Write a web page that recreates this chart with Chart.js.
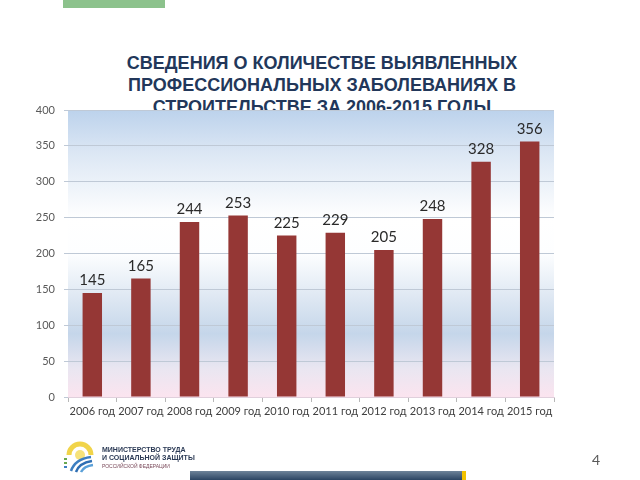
<html>
<head>
<script src="https://cdn.jsdelivr.net/npm/chart.js@4.4.1/dist/chart.umd.min.js"></script>
<style>
  body { margin: 0; width: 640px; height: 480px; background: #fff; overflow: hidden; position: relative; font-family: "Liberation Sans", Arial, sans-serif; }
  #greenbar { position: absolute; left: 63px; top: 0; width: 102px; height: 8px; background: #8cc28c; }
  #title { position: absolute; left: 0; width: 644px; top: 52px; text-align: center; color: #22375a;
           font-family: "Liberation Sans Narrow", "Liberation Sans", Arial, sans-serif; font-weight: bold;
           font-size: 18px; line-height: 22px; }
  #wrap { position: absolute; left: 0; top: 0; width: 640px; height: 480px; }
  #footer-text { position: absolute; left: 102px; top: 446px; color: #2b3a55; font-family: "Liberation Sans Narrow", "Liberation Sans", sans-serif; font-weight: bold; font-size: 7px; line-height: 8px; }
  #footer-text .small { font-weight: normal; font-size: 5px; color: #7a4a5a; }
  #pagenum { position: absolute; left: 592px; top: 451px; color: #595959; font-family: Lato, sans-serif; font-size: 14px; }
  #bottombar { position: absolute; left: 190px; top: 471px; width: 272px; height: 9px; background: linear-gradient(#6e8399, #2c4563); }
  #yellow { position: absolute; left: 462px; top: 471px; width: 4px; height: 9px; background: #f2c200; }
  #logo { position: absolute; left: 63px; top: 441px; }
</style>
</head>
<body>
<div id="greenbar"></div>
<div id="title">СВЕДЕНИЯ О КОЛИЧЕСТВЕ ВЫЯВЛЕННЫХ<br>ПРОФЕССИОНАЛЬНЫХ ЗАБОЛЕВАНИЯХ В<br>СТРОИТЕЛЬСТВЕ ЗА 2006-2015 ГОДЫ</div>
<div id="wrap"><canvas id="chart" width="640" height="480"></canvas></div>

<svg id="logo" width="32" height="32" viewBox="0 0 32 32">
  <path d="M6 14 A11 11 0 0 1 28 14" fill="none" stroke="#f1d44a" stroke-width="5"/>
  <circle cx="17" cy="14" r="5" fill="#f6e27a"/>
  <path d="M8 30 Q12 18 28 16" fill="none" stroke="#3d7fc1" stroke-width="2.5"/>
  <path d="M13 31 Q16 22 29 20" fill="none" stroke="#2f6fb3" stroke-width="2.5"/>
  <path d="M18 31 Q21 25 30 24" fill="none" stroke="#5aa0d8" stroke-width="2.5"/>
  <rect x="1" y="17" width="3" height="2" fill="#6aa84f"/>
  <rect x="1" y="21" width="3" height="2" fill="#6aa84f"/>
  <rect x="1" y="25" width="3" height="2" fill="#3d7fc1"/>
</svg>
<div id="footer-text">МИНИСТЕРСТВО ТРУДА<br>И СОЦИАЛЬНОЙ ЗАЩИТЫ<br><span class="small">РОССИЙСКОЙ ФЕДЕРАЦИИ</span></div>
<div id="pagenum">4</div>
<div id="bottombar"></div>
<div id="yellow"></div>

<script>
var years = ["2006 год", "2007 год", "2008 год", "2009 год", "2010 год", "2011 год", "2012 год", "2013 год", "2014 год", "2015 год"];
var cases = [145, 165, 244, 253, 225, 229, 205, 248, 328, 356];
var yMin = 0, yMax = 400, yStep = 50;

// gradient behind the plot area
var plotBackground = {
  id: "plotBackground",
  beforeDraw: function (chart) {
    var a = chart.chartArea, ctx = chart.ctx;
    var g = ctx.createLinearGradient(0, a.top, 0, a.bottom);
    g.addColorStop(0.00, "#bcd2ec");
    g.addColorStop(0.15, "#dce7f4");
    g.addColorStop(0.38, "#ffffff");
    g.addColorStop(0.50, "#fdfeff");
    g.addColorStop(0.65, "#dfe8f3");
    g.addColorStop(0.78, "#c5d6ea");
    g.addColorStop(0.90, "#e9e6f1");
    g.addColorStop(1.00, "#fbe4ef");
    ctx.save();
    ctx.fillStyle = g;
    ctx.fillRect(a.left, a.top, a.right - a.left, a.bottom - a.top);
    ctx.restore();
  }
};

// value labels above the bars
var barLabels = {
  id: "barLabels",
  afterDatasetsDraw: function (chart) {
    var ctx = chart.ctx;
    var meta = chart.getDatasetMeta(0);
    ctx.save();
    ctx.font = "15px Lato, sans-serif";
    ctx.fillStyle = "#2a2a2a";
    ctx.textAlign = "center";
    ctx.textBaseline = "bottom";
    meta.data.forEach(function (bar, i) {
      ctx.fillText(chart.data.datasets[0].data[i], bar.x, bar.y - 5);
    });
    ctx.restore();
  }
};

new Chart("chart", {
  type: "bar",
  data: {
    labels: years,
    datasets: [{
      data: cases,
      backgroundColor: "#953735",
      barPercentage: 0.4,
      categoryPercentage: 1.0
    }]
  },
  options: {
    responsive: false,
    animation: false,
    layout: { padding: { left: 23, right: 86, top: 110, bottom: 50 } },
    plugins: { legend: { display: false }, tooltip: { enabled: false } },
    scales: {
      x: {
        grid: { offset: true, drawOnChartArea: false, tickLength: 5, color: "#b8b8b8" },
        border: { color: "#e0d0dc" },
        ticks: { color: "#404040", font: { family: "Lato", size: 11 }, padding: 3, maxRotation: 0, autoSkip: false },
        afterFit: function (s) { s.height = 33; }
      },
      y: {
        min: yMin, max: yMax,
        grid: { color: "#bfc9d6", tickLength: 4 },
        border: { display: false },
        ticks: { stepSize: yStep, color: "#595959", font: { family: "Lato", size: 11 }, padding: 9 },
        afterFit: function (s) { s.width = 45; }
      }
    }
  },
  plugins: [plotBackground, barLabels]
});
</script>
</body>
</html>
